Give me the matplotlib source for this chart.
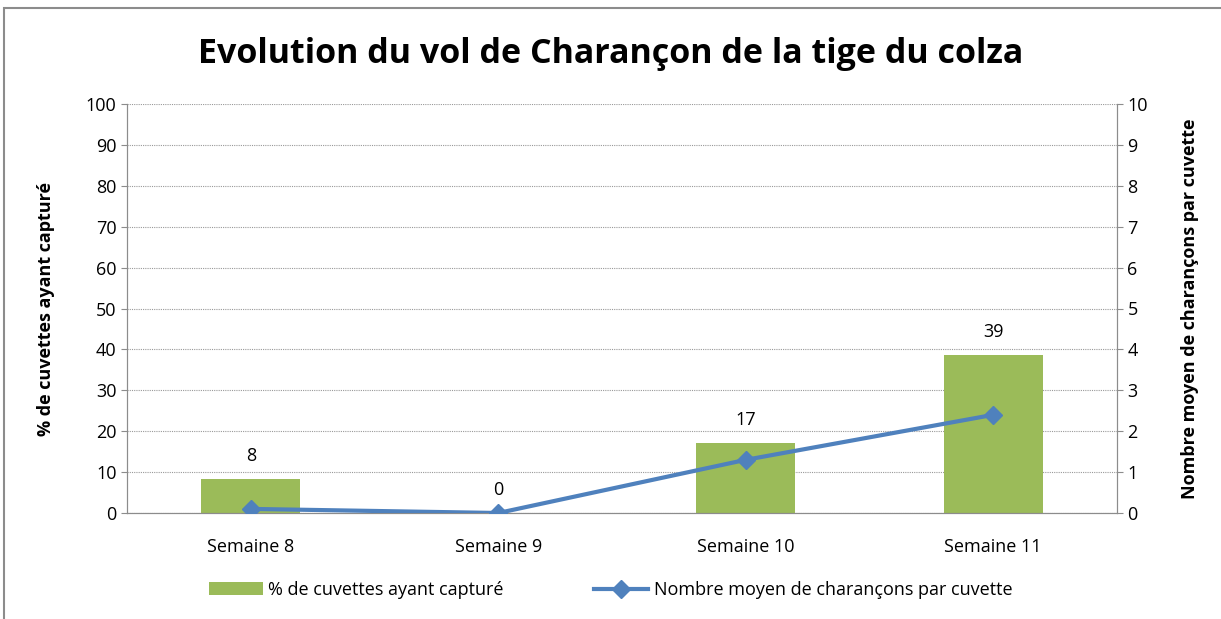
import matplotlib.pyplot as plt
import numpy as np
from matplotlib.patches import Rectangle

weeks = ["Semaine 8", "Semaine 9", "Semaine 10", "Semaine 11"]
pct_captured = [8.3, 0, 17.1, 38.6]
pct_labels = ["8", "0", "17", "39"]
mean_weevils = [0.1, 0.0, 1.3, 2.4]

GREEN = "#9BBB59"
BLUE = "#4F81BD"
FONT = ["Open Sans", "DejaVu Sans"]
plt.rcParams["font.family"] = FONT

fig = plt.figure(figsize=(12.21, 6.19), dpi=100)
fig.patches.append(Rectangle((4 / 1221, -0.1), 1.2, 1 - 8 / 619 + 0.1,
                             transform=fig.transFigure, fill=False,
                             edgecolor="#8c8c8c", linewidth=1.5))

ax = fig.add_axes([127 / 1221, 1 - 513 / 619, 990 / 1221, 409 / 619])
x = np.arange(len(weeks))
ax.bar(x, pct_captured, width=0.4, color=GREEN, zorder=2,
       label="% de cuvettes ayant capturé")
for xi, v, lab in zip(x, pct_captured, pct_labels):
    ax.text(xi, v + 3.5, lab, ha="center", va="bottom", fontsize=13)

ax.set_xlim(-0.5, len(weeks) - 0.5)
ax.set_ylim(0, 100)
ax.set_yticks(range(0, 101, 10))
ax.set_xticks(x)
ax.set_xticklabels(weeks, fontsize=13)
ax.tick_params(axis="y", labelsize=13, length=4, color="#8c8c8c")
ax.tick_params(axis="x", length=0, pad=18)
ax.grid(axis="y", color="#999999", linestyle=(0, (1, 1)), linewidth=0.8, zorder=0)
ax.set_axisbelow(True)
for s in ["left", "right", "bottom"]:
    ax.spines[s].set_color("#8c8c8c")
ax.spines["top"].set_visible(False)
ax.set_ylabel("% de cuvettes ayant capturé", fontsize=13, fontweight="bold", labelpad=22)

ax2 = ax.twinx()
ax2.plot(x, mean_weevils, color=BLUE, linewidth=3, marker="D", markersize=9,
         zorder=3, label="Nombre moyen de charançons par cuvette")
ax2.set_ylim(0, 10)
ax2.set_yticks(range(0, 11))
ax2.tick_params(axis="y", labelsize=13, length=4, color="#8c8c8c")
for s in ["left", "right", "bottom"]:
    ax2.spines[s].set_color("#8c8c8c")
ax2.spines["top"].set_visible(False)
ax2.set_ylabel("Nombre moyen de charançons par cuvette", fontsize=13,
               fontweight="bold", labelpad=24)

fig.text(0.5, 1 - 54 / 619, "Evolution du vol de Charançon de la tige du colza",
         ha="center", va="center", fontsize=24.5, fontweight="bold")

h1, l1 = ax.get_legend_handles_labels()
h2, l2 = ax2.get_legend_handles_labels()
fig.legend(h1 + h2, l1 + l2, loc="center", bbox_to_anchor=(0.5, 1 - 590 / 619),
           ncol=2, frameon=False, fontsize=13, handlelength=3,
           columnspacing=5, handletextpad=0.3)

fig.savefig("out.png", dpi=100)
